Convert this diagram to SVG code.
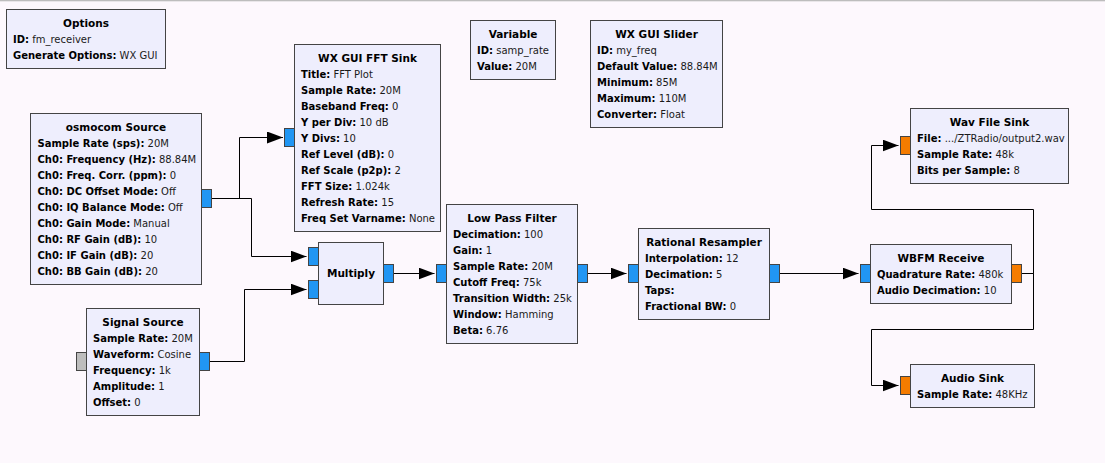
<svg xmlns="http://www.w3.org/2000/svg" width="1105" height="463" viewBox="0 0 1105 463">
<style>
  .bg { fill: #fdf8fd; }
  .blk { fill: #eeeefd; stroke: #444444; stroke-width: 1; }
  .pin { fill: #2196f3; stroke: #444444; stroke-width: 1; }
  .por { fill: #f57c00; stroke: #444444; stroke-width: 1; }
  .pgr { fill: #bdbdbd; stroke: #444444; stroke-width: 1; }
  text { font-family: "DejaVu Sans", "Noto Sans", sans-serif; font-size: 10px; fill: #1a1a1a; }
  .t { font-weight: bold; font-size: 10.5px; text-anchor: middle; fill: #000; }
  .k { font-weight: bold; fill: #000; }
  .wire { fill: none; stroke: #000; stroke-width: 1; }
</style>
<defs>
  <marker id="arr" markerUnits="userSpaceOnUse" markerWidth="16" markerHeight="12" viewBox="0 0 16 12" refX="16" refY="6" orient="auto">
    <path d="M0,0 L16,6 L0,12 z" fill="#000"/>
  </marker>
</defs>
<rect class="bg" x="0" y="0" width="1105" height="463"/>
<rect x="0" y="0" width="1105" height="1.3" fill="#bdbdbd"/>

<g id="connectors">
  <path class="wire" d="M211.5,198.5 H239.5 V137.5 H283" marker-end="url(#arr)"/>
  <path class="wire" d="M211.5,198.5 H251.5 V256.5 H306.5" marker-end="url(#arr)"/>
  <path class="wire" d="M209.5,361.5 H244.5 V289.5 H306.5" marker-end="url(#arr)"/>
  <path class="wire" d="M393.5,273.5 H434.5" marker-end="url(#arr)"/>
  <path class="wire" d="M587.5,273.5 H626.5" marker-end="url(#arr)"/>
  <path class="wire" d="M779.5,273.5 H858.5" marker-end="url(#arr)"/>
  <path class="wire" d="M1021.5,273.5 H1033.5 V209.5 H871.5 V145.5 H898.5" marker-end="url(#arr)"/>
  <path class="wire" d="M1021.5,273.5 H1033.5 V329.5 H871.5 V385.5 H898.5" marker-end="url(#arr)"/>
</g>

<g id="options">
  <rect class="blk" x="6.5" y="9.5" width="159" height="59"/>
  <text class="t" x="86" y="26.5">Options</text>
  <text x="13" y="42.5"><tspan class="k">ID:</tspan> fm_receiver</text>
  <text x="13" y="58.5"><tspan class="k">Generate Options:</tspan> WX GUI</text>
</g>

<g id="osmocom_source">
  <rect class="blk" x="30.5" y="113.5" width="171" height="171"/>
  <text class="t" x="116" y="130.5">osmocom Source</text>
  <text x="37.5" y="146.5"><tspan class="k">Sample Rate (sps):</tspan> 20M</text>
  <text x="37.5" y="162.5"><tspan class="k">Ch0: Frequency (Hz):</tspan> 88.84M</text>
  <text x="37.5" y="178.5"><tspan class="k">Ch0: Freq. Corr. (ppm):</tspan> 0</text>
  <text x="37.5" y="194.5"><tspan class="k">Ch0: DC Offset Mode:</tspan> Off</text>
  <text x="37.5" y="210.5"><tspan class="k">Ch0: IQ Balance Mode:</tspan> Off</text>
  <text x="37.5" y="226.5"><tspan class="k">Ch0: Gain Mode:</tspan> Manual</text>
  <text x="37.5" y="242.5"><tspan class="k">Ch0: RF Gain (dB):</tspan> 10</text>
  <text x="37.5" y="258.5"><tspan class="k">Ch0: IF Gain (dB):</tspan> 20</text>
  <text x="37.5" y="274.5"><tspan class="k">Ch0: BB Gain (dB):</tspan> 20</text>
  <rect class="pin" x="201.5" y="189.5" width="10" height="18"/>
</g>

<g id="fft_sink">
  <rect class="blk" x="294.5" y="44.5" width="146" height="187"/>
  <text class="t" x="367.5" y="61.5">WX GUI FFT Sink</text>
  <text x="301" y="77.5"><tspan class="k">Title:</tspan> FFT Plot</text>
  <text x="301" y="93.5"><tspan class="k">Sample Rate:</tspan> 20M</text>
  <text x="301" y="109.5"><tspan class="k">Baseband Freq:</tspan> 0</text>
  <text x="301" y="125.5"><tspan class="k">Y per Div:</tspan> 10 dB</text>
  <text x="301" y="141.5"><tspan class="k">Y Divs:</tspan> 10</text>
  <text x="301" y="157.5"><tspan class="k">Ref Level (dB):</tspan> 0</text>
  <text x="301" y="173.5"><tspan class="k">Ref Scale (p2p):</tspan> 2</text>
  <text x="301" y="189.5"><tspan class="k">FFT Size:</tspan> 1.024k</text>
  <text x="301" y="205.5"><tspan class="k">Refresh Rate:</tspan> 15</text>
  <text x="301" y="221.5"><tspan class="k">Freq Set Varname:</tspan> None</text>
  <rect class="pin" x="284.5" y="128.5" width="10" height="18"/>
</g>

<g id="variable">
  <rect class="blk" x="470.5" y="20.5" width="85" height="59"/>
  <text class="t" x="513" y="37.5">Variable</text>
  <text x="477" y="53.5"><tspan class="k">ID:</tspan> samp_rate</text>
  <text x="477" y="69.5"><tspan class="k">Value:</tspan> 20M</text>
</g>

<g id="slider">
  <rect class="blk" x="590.5" y="20.5" width="132" height="107"/>
  <text class="t" x="656.5" y="37.5">WX GUI Slider</text>
  <text x="597" y="53.5"><tspan class="k">ID:</tspan> my_freq</text>
  <text x="597" y="69.5"><tspan class="k">Default Value:</tspan> 88.84M</text>
  <text x="597" y="85.5"><tspan class="k">Minimum:</tspan> 85M</text>
  <text x="597" y="101.5"><tspan class="k">Maximum:</tspan> 110M</text>
  <text x="597" y="117.5"><tspan class="k">Converter:</tspan> Float</text>
</g>

<g id="signal_source">
  <rect class="blk" x="86.5" y="308.5" width="113" height="107"/>
  <text class="t" x="143" y="325.5">Signal Source</text>
  <text x="93" y="341.5"><tspan class="k">Sample Rate:</tspan> 20M</text>
  <text x="93" y="357.5"><tspan class="k">Waveform:</tspan> Cosine</text>
  <text x="93" y="373.5"><tspan class="k">Frequency:</tspan> 1k</text>
  <text x="93" y="389.5"><tspan class="k">Amplitude:</tspan> 1</text>
  <text x="93" y="405.5"><tspan class="k">Offset:</tspan> 0</text>
  <rect class="pgr" x="76.5" y="352.5" width="10" height="18"/>
  <rect class="pin" x="199.5" y="352.5" width="10" height="18"/>
</g>

<g id="multiply">
  <rect class="blk" x="318.5" y="242.5" width="65" height="62"/>
  <text class="t" x="351" y="276.5">Multiply</text>
  <rect class="pin" x="308.5" y="247.5" width="10" height="18"/>
  <rect class="pin" x="308.5" y="280.5" width="10" height="18"/>
  <rect class="pin" x="383.5" y="264.5" width="10" height="18"/>
</g>

<g id="low_pass_filter">
  <rect class="blk" x="446.5" y="204.5" width="131" height="139"/>
  <text class="t" x="512" y="221.5">Low Pass Filter</text>
  <text x="453" y="237.5"><tspan class="k">Decimation:</tspan> 100</text>
  <text x="453" y="253.5"><tspan class="k">Gain:</tspan> 1</text>
  <text x="453" y="269.5"><tspan class="k">Sample Rate:</tspan> 20M</text>
  <text x="453" y="285.5"><tspan class="k">Cutoff Freq:</tspan> 75k</text>
  <text x="453" y="301.5"><tspan class="k">Transition Width:</tspan> 25k</text>
  <text x="453" y="317.5"><tspan class="k">Window:</tspan> Hamming</text>
  <text x="453" y="333.5"><tspan class="k">Beta:</tspan> 6.76</text>
  <rect class="pin" x="436.5" y="264.5" width="10" height="18"/>
  <rect class="pin" x="577.5" y="264.5" width="10" height="18"/>
</g>

<g id="rational_resampler">
  <rect class="blk" x="638.5" y="228.5" width="131" height="91"/>
  <text class="t" x="704" y="245.5">Rational Resampler</text>
  <text x="645" y="261.5"><tspan class="k">Interpolation:</tspan> 12</text>
  <text x="645" y="277.5"><tspan class="k">Decimation:</tspan> 5</text>
  <text x="645" y="293.5"><tspan class="k">Taps:</tspan></text>
  <text x="645" y="309.5"><tspan class="k">Fractional BW:</tspan> 0</text>
  <rect class="pin" x="628.5" y="264.5" width="10" height="18"/>
  <rect class="pin" x="769.5" y="264.5" width="10" height="18"/>
</g>

<g id="wbfm_receive">
  <rect class="blk" x="870.5" y="244.5" width="141" height="59"/>
  <text class="t" x="941" y="261.5">WBFM Receive</text>
  <text x="877" y="277.5"><tspan class="k">Quadrature Rate:</tspan> 480k</text>
  <text x="877" y="293.5"><tspan class="k">Audio Decimation:</tspan> 10</text>
  <rect class="pin" x="860.5" y="264.5" width="10" height="18"/>
  <rect class="por" x="1011.5" y="264.5" width="10" height="18"/>
</g>

<g id="wav_file_sink">
  <rect class="blk" x="910.5" y="108.5" width="158" height="75"/>
  <text class="t" x="989.5" y="125.5">Wav File Sink</text>
  <text x="917" y="141.5"><tspan class="k">File:</tspan> .../ZTRadio/output2.wav</text>
  <text x="917" y="157.5"><tspan class="k">Sample Rate:</tspan> 48k</text>
  <text x="917" y="173.5"><tspan class="k">Bits per Sample:</tspan> 8</text>
  <rect class="por" x="900.5" y="136.5" width="10" height="18"/>
</g>

<g id="audio_sink">
  <rect class="blk" x="910.5" y="364.5" width="124" height="43"/>
  <text class="t" x="972.5" y="381.5">Audio Sink</text>
  <text x="917" y="397.5"><tspan class="k">Sample Rate:</tspan> 48KHz</text>
  <rect class="por" x="900.5" y="376.5" width="10" height="18"/>
</g>
</svg>
